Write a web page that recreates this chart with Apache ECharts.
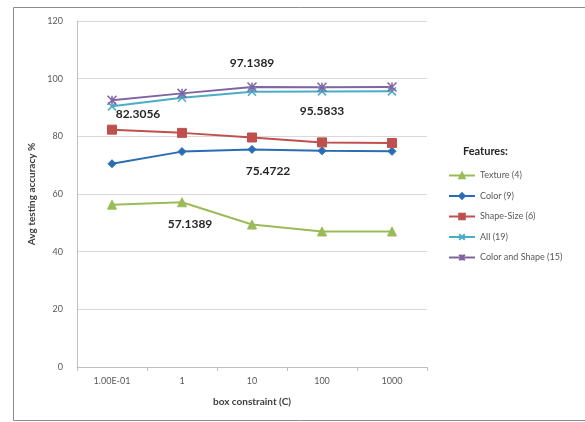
<!DOCTYPE html>
<html>
<head>
<meta charset="utf-8">
<script src="https://cdn.jsdelivr.net/npm/echarts@6/dist/echarts.min.js"></script>
<style>
  html, body { margin: 0; padding: 0; background: #ffffff; }
  #chart { width: 585px; height: 422px; }
</style>
</head>
<body>
<div id="chart"></div>
<script>
// Box constraint values (x axis categories)
const categories = ['1.00E-01', '1', '10', '100', '1000'];

// Average testing accuracy (%) per feature set
const texture = [56.3, 57.1389, 49.4, 47.0, 47.0];
const color = [70.5, 74.7, 75.4722, 75.0, 74.8];
const shapeSize = [82.3056, 81.2, 79.6, 77.9, 77.7];
const allFeatures = [90.4, 93.4, 95.5, 95.5833, 95.6];
const colorShape = [92.5, 94.9, 97.1389, 97.0, 97.1];

const seriesNames = ['Texture (4)', 'Color (9)', 'Shape-Size (6)', 'All (19)', 'Color and Shape (15)'];
const yTicks = { min: 0, max: 120, interval: 20 };

const FONT = 'Lato, "Liberation Sans", sans-serif';

const xMark = 'path://M0,0 L10,10 M10,0 L0,10';
const starMark = 'path://M0,0 L10,10 M10,0 L0,10 M5,0 L5,10';

// Attach a value label to one point of a series
function withLabel(values, idx, pos, offset) {
  return values.map((v, i) => {
    if (i !== idx) return v;
    return {
      value: v,
      label: {
        show: true,
        position: pos,
        offset: offset,
        formatter: p => String(p.value),
        fontFamily: FONT,
        fontWeight: 'bold',
        fontSize: 12,
        color: '#262626'
      }
    };
  });
}

function lineSeries(name, data, color, symbol, size, extra) {
  return Object.assign({
    name: name,
    type: 'line',
    data: data,
    symbol: symbol,
    symbolSize: size,
    showAllSymbol: true,
    lineStyle: { color: color, width: 2 },
    itemStyle: { color: color, borderColor: color, borderWidth: 1 },
    emphasis: { disabled: true },
    z: 3
  }, extra || {});
}

const chart = echarts.init(document.getElementById('chart'), null, { renderer: 'canvas' });

chart.setOption({
  animation: false,
  backgroundColor: '#ffffff',
  graphic: [
    {
      type: 'rect',
      shape: { x: 13.5, y: 7.5, width: 600, height: 413 },
      style: { fill: 'none', stroke: '#8c8c8c', lineWidth: 1 },
      silent: true,
      z: -1
    },
    {
      type: 'text',
      left: 463,
      top: 146,
      style: {
        text: 'Features:',
        font: 'bold 11px ' + FONT,
        fill: '#262626'
      }
    }
  ],
  grid: { left: 77, top: 21, right: 158, bottom: 55, containLabel: false },
  legend: {
    orient: 'vertical',
    left: 443,
    top: 166,
    itemGap: 11.5,
    itemWidth: 26,
    itemHeight: 7,
    data: seriesNames,
    textStyle: { fontFamily: FONT, fontSize: 9, color: '#595959' },
    selectedMode: false
  },
  xAxis: {
    type: 'category',
    data: categories,
    boundaryGap: true,
    name: 'box constraint (C)',
    nameLocation: 'middle',
    nameGap: 30,
    nameTextStyle: { fontFamily: FONT, fontWeight: 'bold', fontSize: 10, color: '#404040' },
    axisLine: { lineStyle: { color: '#bfbfbf', width: 1 } },
    axisTick: { show: true, alignWithLabel: false, length: 4, lineStyle: { color: '#bfbfbf' } },
    axisLabel: { fontFamily: FONT, fontSize: 9, color: '#595959', margin: 10 },
    splitLine: { show: false }
  },
  yAxis: {
    type: 'value',
    min: yTicks.min,
    max: yTicks.max,
    interval: yTicks.interval,
    name: 'Avg testing accuracy %',
    nameLocation: 'middle',
    nameGap: 30,
    nameRotate: 90,
    nameTextStyle: { fontFamily: FONT, fontWeight: 'bold', fontSize: 10, color: '#404040' },
    axisLine: { show: true, lineStyle: { color: '#bfbfbf', width: 1 } },
    axisTick: { show: false },
    axisLabel: { fontFamily: FONT, fontSize: 9, color: '#595959', margin: 14 },
    splitLine: { show: true, lineStyle: { color: '#d9d9d9', width: 1 } }
  },
  series: [
    lineSeries(seriesNames[0], withLabel(texture, 1, 'bottom', [8, 6]), '#9bbb59', 'triangle', 9),
    lineSeries(seriesNames[1], withLabel(color, 2, 'bottom', [16, 6]), '#2a6db5', 'diamond', 8),
    lineSeries(seriesNames[2], withLabel(shapeSize, 0, 'top', [26, 0]), '#c0504d', 'rect', 9),
    lineSeries(seriesNames[3], withLabel(allFeatures, 3, 'bottom', [0, 4]), '#4bacc6', xMark, 8,
      { itemStyle: { color: '#4bacc6', borderColor: '#4bacc6', borderWidth: 1.5 } }),
    lineSeries(seriesNames[4], withLabel(colorShape, 2, 'top', [0, -8]), '#8064a2', starMark, 9,
      { itemStyle: { color: '#8064a2', borderColor: '#8064a2', borderWidth: 1.5 } })
  ]
});
</script>
</body>
</html>
